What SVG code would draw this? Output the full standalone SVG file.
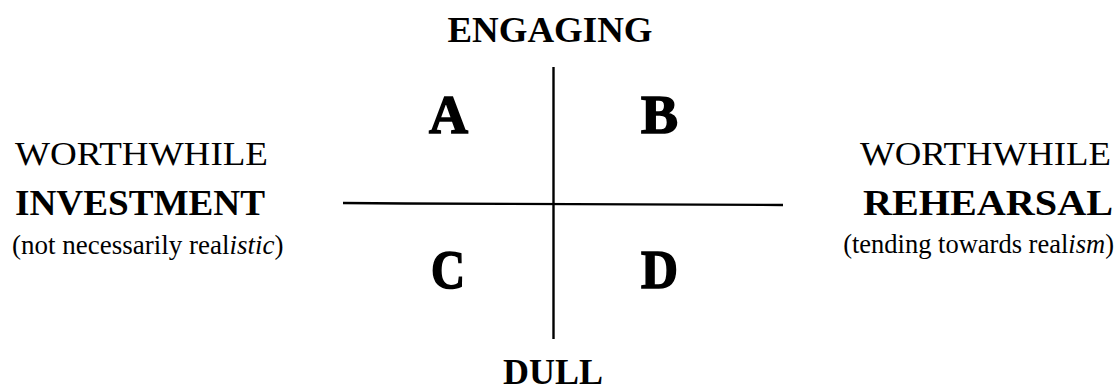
<svg xmlns="http://www.w3.org/2000/svg" width="1116" height="392" viewBox="0 0 1116 392">
<style>
text{font-family:"Liberation Serif","Times New Roman",serif;fill:#000}
.axis{font-weight:bold;font-size:36px}
.quad{font-weight:bold;font-size:54px;stroke:#000;stroke-width:1.6}
.reg{font-size:33px}
.sub{font-size:26.5px}
.ax{stroke:#000;stroke-width:2.4;fill:none}
</style>
<rect width="1116" height="392" fill="#fff"/>
<g id="connectors">
<line class="ax" x1="553.5" y1="67" x2="553.5" y2="339"/>
<path class="ax" d="M343 203 L405 203.5 L783 205"/>
</g>
<g id="engaging"><text class="axis" x="550" y="42" text-anchor="middle" textLength="205" lengthAdjust="spacingAndGlyphs">ENGAGING</text></g>
<g id="dull"><text class="axis" x="553" y="384" text-anchor="middle" textLength="100" lengthAdjust="spacingAndGlyphs" style="font-size:35px">DULL</text></g>
<g id="quadA"><text class="quad" x="429" y="133" textLength="39" lengthAdjust="spacingAndGlyphs">A</text></g>
<g id="quadB"><text class="quad" x="641" y="133" textLength="37" lengthAdjust="spacingAndGlyphs">B</text></g>
<g id="quadC"><text class="quad" x="431" y="288" textLength="34" lengthAdjust="spacingAndGlyphs">C</text></g>
<g id="quadD"><text class="quad" x="641" y="288" textLength="37" lengthAdjust="spacingAndGlyphs">D</text></g>
<g id="investment">
<text class="reg" x="15" y="165" textLength="253" lengthAdjust="spacingAndGlyphs">WORTHWHILE</text>
<text class="axis" x="15" y="215" textLength="250" lengthAdjust="spacingAndGlyphs">INVESTMENT</text>
<text class="sub" x="12" y="254" style="font-size:27px">(not necessarily real<tspan font-style="italic">istic</tspan>)</text>
</g>
<g id="rehearsal">
<text class="reg" x="1111" y="165" text-anchor="end" textLength="251" lengthAdjust="spacingAndGlyphs">WORTHWHILE</text>
<text class="axis" x="1113" y="215" text-anchor="end" textLength="250" lengthAdjust="spacingAndGlyphs">REHEARSAL</text>
<text class="sub" x="1114" y="253" text-anchor="end">(tending towards real<tspan font-style="italic">ism</tspan>)</text>
</g>
</svg>
